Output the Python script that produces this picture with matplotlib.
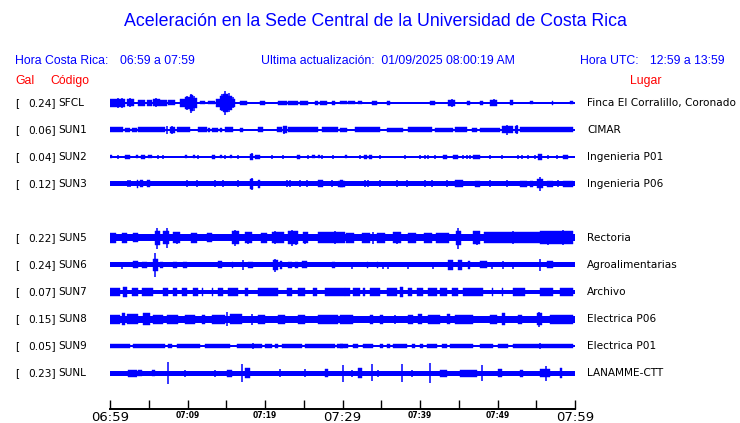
import matplotlib
matplotlib.use('Agg')
import matplotlib.pyplot as plt
from matplotlib.transforms import blended_transform_factory

# stations, top to bottom (SUN4 has an empty row)
codes = ['SFCL', 'SUN1', 'SUN2', 'SUN3', 'SUN4', 'SUN5', 'SUN6', 'SUN7', 'SUN8', 'SUN9', 'SUNL']
gal = [0.24, 0.06, 0.04, 0.12, None, 0.22, 0.24, 0.07, 0.15, 0.05, 0.23]
places = ['Finca El Corralillo, Coronado', 'CIMAR', 'Ingenieria P01', 'Ingenieria P06', None,
          'Rectoria', 'Agroalimentarias', 'Archivo', 'Electrica P06', 'Electrica P01', 'LANAMME-CTT']

time_labels = ['06:59', '07:09', '07:19', '07:29', '07:39', '07:49', '07:59']
big_labels = ['06:59', '07:29', '07:59']

# trace envelopes: minutes since 06:59, amplitude in screen px
base = {'SFCL': 1.0, 'SUN1': 1.0, 'SUN2': 0.7, 'SUN3': 2.5, 'SUN5': 3.5, 'SUN6': 2.5,
        'SUN7': 2.3, 'SUN8': 3.5, 'SUN9': 0.7, 'SUNL': 2.5}

# (start, end, half amplitude)
blocks = {
    'SFCL': [(0, 1.94, 4), (2.15, 3.14, 3.5), (3.57, 4.52, 3), (4.73, 5.38, 3), (5.59, 6.45, 3.5),
             (6.45, 7.31, 3), (7.44, 8.39, 2.5), (9.03, 9.68, 4), (9.68, 10.32, 6), (10.32, 10.75, 8),
             (10.75, 11.18, 5), (11.61, 12.26, 1.5), (12.69, 13.55, 1.5), (13.68, 14.19, 4),
             (14.19, 14.62, 7), (14.62, 15.27, 9), (15.27, 15.70, 7), (15.70, 16.13, 4),
             (16.77, 17.63, 1.8), (19.35, 20.0, 1.8), (21.72, 22.80, 1.8), (23.01, 24.30, 1.8),
             (24.52, 25.59, 1.8), (26.45, 26.88, 1.8), (27.10, 27.96, 1.8), (28.60, 29.03, 1.8),
             (29.68, 30.54, 1.5), (30.76, 31.62, 1.5), (32.05, 32.48, 1.5), (33.77, 34.41, 2),
             (35.70, 36.13, 2), (41.29, 41.94, 2), (43.66, 44.52, 3), (46.02, 46.45, 2),
             (47.74, 48.17, 2), (49.04, 49.89, 3), (51.62, 52.05, 2.5), (54.20, 54.63, 1.5),
             (57.0, 57.21, 2), (59.36, 59.79, 1.5)],
    'SUN1': [(0, 1.72, 2.5), (1.94, 2.58, 2), (2.80, 3.44, 2), (3.66, 7.10, 2.5), (7.74, 8.39, 3),
             (8.60, 10.32, 2.5), (11.40, 12.47, 2.5), (12.69, 12.90, 2), (13.12, 13.98, 2),
             (14.19, 14.41, 2), (14.84, 15.91, 2.5), (16.77, 17.20, 2), (19.14, 19.78, 2.5),
             (21.51, 22.15, 2.5), (22.37, 22.80, 3.5), (23.01, 26.88, 2.5), (27.31, 29.46, 2.5),
             (29.68, 30.54, 2), (31.62, 34.84, 2.5), (35.70, 37.85, 2), (38.50, 41.51, 2.5),
             (41.94, 44.30, 2), (44.52, 46.02, 2.5), (46.67, 47.31, 2), (47.74, 50.32, 2),
             (50.54, 52.05, 3.5), (52.26, 52.69, 3.5), (52.91, 59.79, 2.5)],
    'SUN2': [(0, 0.22, 1.5), (1.94, 2.58, 2), (3.31, 3.66, 1.5), (4.0, 4.52, 2), (4.95, 5.38, 1.5),
             (9.68, 9.89, 1.5), (10.75, 10.97, 1.5), (13.12, 13.55, 2), (14.19, 14.41, 1.5),
             (15.48, 15.70, 1.5), (18.06, 18.49, 3), (18.71, 19.35, 2), (24.09, 24.52, 2),
             (26.02, 26.45, 1.5), (26.88, 27.10, 1.5), (30.33, 30.54, 1.5), (32.78, 33.12, 2),
             (33.46, 33.77, 2), (43.01, 43.44, 2), (44.30, 44.95, 2), (46.88, 47.74, 2),
             (55.27, 55.70, 3), (58.41, 59.14, 2)],
    'SUN3': [(3.44, 3.66, 4), (3.87, 4.30, 3.5), (4.73, 5.16, 3.5), (18.06, 18.49, 5),
             (19.14, 19.35, 4), (26.88, 27.53, 3.5), (29.46, 30.32, 3), (29.68, 30.11, 3.5),
             (44.52, 45.59, 3.5), (47.10, 47.74, 3), (52.91, 53.77, 3), (54.20, 54.63, 3),
             (55.06, 55.92, 4.5), (56.35, 57.21, 3), (58.50, 59.79, 3)],
    'SUN5': [(0, 0.8, 5), (1.5, 2.2, 5), (3, 3.6, 4.5), (5.81, 6.45, 7), (6.9, 7.6, 6.5),
             (8.17, 9.03, 5.5), (10.5, 11.2, 5), (12.5, 13.2, 4.5), (15.7, 16.6, 6.5),
             (17.42, 18.28, 5.5), (19.5, 20.2, 5), (20.86, 22.4, 5.5), (23.01, 24.30, 6.5),
             (24.95, 25.59, 5.5), (26.88, 30.32, 5.5), (30.5, 31.5, 5), (32.5, 33.5, 5),
             (34.5, 35.5, 5), (36.5, 37.5, 5.5), (38.5, 39.5, 5), (40.5, 41.5, 5), (42, 43.8, 5),
             (44.6, 45.3, 7), (46.88, 47.74, 6.5), (48.2, 55.5, 5.5), (55.5, 59.79, 6.5)],
    'SUN6': [(3.01, 3.66, 3.5), (4.09, 4.73, 3), (5.59, 6.24, 6), (6.45, 6.88, 3), (8.17, 8.60, 3),
             (9.46, 9.89, 3), (13.98, 14.41, 3.5), (15.70, 15.91, 3), (17.85, 18.49, 3),
             (21.08, 21.72, 5), (21.94, 22.15, 4), (23.01, 23.44, 3), (23.87, 24.30, 3),
             (24.73, 25.38, 3.5), (28.60, 29.03, 3), (33.12, 33.34, 3), (34.41, 34.63, 3),
             (43.66, 44.30, 5), (44.95, 45.38, 5), (46.24, 46.45, 4), (47.74, 48.60, 3.5),
             (56.35, 57.21, 3.5)],
    'SUN7': [(0, 1.29, 3.5), (1.72, 2.15, 4.5), (2.80, 3.66, 3.5), (4.09, 5.59, 4), (6.88, 7.53, 3.5),
             (8.17, 8.60, 3.5), (9.25, 9.89, 4), (10.75, 11.40, 3.5), (11.83, 12.0, 3.5),
             (13.12, 13.3, 3.5), (13.98, 14.62, 4), (15.27, 16.56, 3.5), (17.42, 17.85, 4),
             (19.14, 21.72, 3.5), (22.80, 23.44, 4), (24.30, 25.16, 3.5), (26.24, 26.67, 4),
             (27.74, 30.32, 3.5), (30.33, 30.97, 3.5), (31.40, 32.26, 3.5), (32.69, 32.9, 3.5),
             (33.55, 34.84, 3.5), (35.70, 36.99, 3.5), (37.42, 37.85, 4.5), (38.50, 38.93, 4),
             (39.57, 40.43, 4), (41.08, 42.15, 3.5), (42.58, 43.44, 3.5), (44.09, 44.95, 3.5),
             (45.59, 48.17, 4), (49.25, 49.4, 3.5), (50.54, 50.75, 4), (52.05, 53.55, 4),
             (55.49, 57.21, 3.5), (58.07, 59.79, 3.5)],
    'SUN8': [(0, 1.29, 4.5), (1.51, 1.94, 6), (2.15, 3.66, 5), (4.30, 5.16, 6), (5.59, 6.88, 4.5),
             (7.31, 8.82, 4.5), (9.68, 10.97, 4.5), (11.83, 12.26, 4.5), (13.12, 14.84, 4.5),
             (15.48, 17.0, 5), (19.14, 20.0, 4.5), (21.72, 22.58, 4.5), (24.30, 25.16, 4.5),
             (26.88, 29.46, 4.5), (29.68, 31.40, 4.5), (33.55, 33.98, 4.5), (34.84, 35.27, 4.5),
             (38.50, 39.14, 4.5), (39.79, 40.22, 5), (41.08, 42.58, 4.5), (43.44, 43.87, 5),
             (44.52, 46.88, 4.5), (49.04, 49.89, 4.5), (50.54, 50.97, 6), (52.69, 53.12, 4.5),
             (55.06, 55.70, 6), (56.78, 59.79, 4.5)],
    'SUN9': [(0, 2.58, 2), (3.01, 7.10, 2), (7.53, 7.96, 2), (8.60, 11.61, 2), (12.26, 15.48, 2),
             (16.34, 19.57, 2), (20.0, 20.86, 2), (21.29, 21.72, 2), (22.15, 24.73, 2),
             (25.16, 29.03, 2), (29.25, 30.32, 2), (29.68, 30.11, 2), (30.33, 30.76, 2),
             (31.40, 32.05, 2), (32.69, 33.98, 2), (34.84, 35.27, 2), (35.70, 36.13, 2),
             (36.56, 38.28, 2), (38.93, 39.36, 2), (40.0, 40.43, 2), (40.86, 42.15, 2),
             (42.80, 43.44, 2), (43.87, 46.88, 2), (47.74, 49.46, 2), (50.11, 51.40, 2),
             (52.05, 59.79, 2)],
    'SUNL': [(2.37, 3.44, 3.5), (3.66, 4.09, 3), (5.38, 5.81, 3), (15.05, 15.70, 3.5),
             (17.42, 18.06, 5), (27.74, 28.17, 4), (32.05, 32.48, 5), (42.58, 43.44, 3.5),
             (45.16, 47.31, 3.5), (50.11, 50.54, 4), (52.91, 53.34, 3.5), (55.49, 56.78, 4),
             (58.07, 58.28, 5)],
}

# (minute, up, down)
spikes = {
    'SFCL': [(1.0, 5, 5), (1.51, 5, 5), (2.6, 4.5, 4.5), (5.9, 4.5, 4.5), (9.9, 7, 7), (10.5, 9, 10),
             (10.8, 7, 8), (14.5, 9, 8), (14.85, 12, 12), (15.3, 10, 9), (15.9, 6, 5), (44.1, 3.5, 4.5),
             (49.5, 3.5, 3.5)],
    'SUN1': [(7.31, 4, 4), (7.96, 4, 4), (22.5, 4, 4), (51.2, 5, 5), (52.5, 4.5, 4.5)],
    'SUN2': [(1.08, 2, 2), (6.24, 2, 2), (6.88, 2, 2), (11.40, 2, 2), (14.9, 2, 2), (16.56, 2, 2),
             (20.86, 2, 2), (22.37, 2, 2), (25.59, 2, 2), (27.31, 2, 2), (28.82, 2, 2), (32.26, 2, 2),
             (34.84, 2, 2), (38.07, 2, 2), (40.0, 2, 2), (40.65, 2, 2), (41.08, 2, 2), (41.94, 2, 2),
             (45.5, 2, 2), (46.1, 2, 2), (46.5, 2, 2), (49.04, 2, 2), (50.54, 2, 2), (52.6, 2, 2),
             (53.2, 2, 2), (53.98, 2, 2), (54.9, 2, 2), (56.56, 2, 2), (57.64, 2, 2), (18.3, 3.5, 3.5)],
    'SUN3': [(2.28, 3.5, 3.5), (2.58, 3.5, 3.5), (9.89, 3.5, 3.5), (11.18, 3.5, 3.5), (13.55, 3.5, 3.5),
             (14.62, 3.5, 3.5), (16.56, 3.5, 3.5), (22.80, 3.5, 3.5), (23.23, 3.5, 3.5), (24.52, 3.5, 3.5),
             (25.38, 3.5, 3.5), (28.60, 3.5, 3.5), (32.91, 3.5, 3.5), (33.34, 3.5, 3.5), (34.84, 3.5, 3.5),
             (36.99, 3.5, 3.5), (38.28, 3.5, 3.5), (40.65, 3.5, 3.5), (41.51, 3.5, 3.5), (43.44, 3.5, 3.5),
             (49.04, 3.5, 3.5), (51.19, 3.5, 3.5), (57.85, 3.5, 3.5), (55.49, 7, 7), (18.3, 5.5, 6)],
    'SUN5': [(6.0, 10, 11), (7.3, 10, 10), (8.6, 6, 6), (16.1, 8, 8), (17.8, 6, 6), (21.3, 6.5, 6.5),
             (23.5, 8, 8), (24.0, 7, 7), (25.2, 6, 6), (29.0, 6.5, 6.5), (33.9, 6, 6), (37.0, 6, 6),
             (44.95, 10, 11), (47.3, 7, 7), (52.0, 6.5, 6.5), (56.5, 7, 7), (58.5, 8, 7)],
    'SUN6': [(1.51, 3.5, 3.5), (5.81, 11.5, 11.5), (17.20, 5, 5), (21.3, 6.5, 6.5), (31.19, 3.5, 3.5),
             (35.27, 3.5, 3.5), (35.92, 3.5, 3.5), (38.50, 3.5, 3.5), (41.72, 3.5, 3.5), (49.25, 3.5, 3.5),
             (50.75, 4, 4), (52.05, 3.5, 3.5), (55.49, 6, 6)],
    'SUN7': [],
    'SUN8': [(15.05, 7, 7), (18.28, 5.5, 5.5), (36.78, 4.5, 4.5), (55.4, 7.5, 8)],
    'SUN9': [(18.41, 3, 3), (55.49, 3, 3)],
    'SUNL': [(7.53, 11.5, 11), (9.68, 3.5, 3.5), (13.55, 3.5, 3.5), (17.08, 9, 8.5), (21.94, 4, 4),
             (25.16, 4, 4), (30.11, 8.5, 8.5), (31.19, 3.5, 3.5), (33.77, 9, 8), (34.63, 3.5, 3.5),
             (37.64, 9, 9), (38.93, 3.5, 3.5), (41.29, 10, 10), (47.96, 8, 8), (56.22, 7.5, 7.5)],
}

blue = '#0000ff'
fig = plt.figure(figsize=(7.4, 4.23), dpi=100)
W, H = 740, 423
ax = fig.add_axes([110 / W, 1 - 409 / H, 465 / W, 321 / H])
ax.set_xlim(0, 60)
ax.set_ylim(306, -15)
row = 27

for i, code in enumerate(codes):
    if gal[i] is None:
        continue
    y0 = i * row
    b = base[code]
    ax.fill_between([0, 60], y0 - b, y0 + b, color=blue, lw=0)
    for m0, m1, h in blocks[code]:
        ax.fill_between([m0, m1], y0 - h, y0 + h, color=blue, lw=0.3)
    for m, up, dn in spikes[code]:
        ax.vlines(m, y0 - up, y0 + dn, color=blue, lw=1.1)

for s in ['top', 'left', 'right']:
    ax.spines[s].set_visible(False)
ax.spines['bottom'].set_linewidth(1.4)
ax.set_yticks([])
ax.set_xticks(range(0, 61, 5))
lbls = []
for k in range(13):
    lbls.append(time_labels[k // 2] if k % 2 == 0 else '')
ax.set_xticklabels(lbls)
ax.tick_params(axis='x', direction='in', length=6.5, width=1, pad=1.5)
for t in ax.get_xticklabels():
    if t.get_text() in big_labels:
        t.set_fontsize(9.5)
    else:
        t.set_fontsize(5.5)
        t.set_fontweight('bold')

# station labels
tr = blended_transform_factory(fig.transFigure, ax.transData)
fs = 7.6
for i, code in enumerate(codes):
    if gal[i] is None:
        continue
    y0 = i * row
    ax.text(15 / W, y0, '[', transform=tr, fontsize=fs, va='center', ha='left')
    ax.text(55.5 / W, y0, '%.2f]' % gal[i], transform=tr, fontsize=fs, va='center', ha='right')
    ax.text(58 / W, y0, code, transform=tr, fontsize=fs, va='center', ha='left')
    ax.text(587 / W, y0, places[i], transform=tr, fontsize=fs, va='center', ha='left')

# header
hf = 'Liberation Sans'
fig.text(375 / W, 1 - 22 / H, 'Aceleración en la Sede Central de la Universidad de Costa Rica',
         color=blue, fontsize=12.8, family=hf, ha='center', va='center')
fig.text(15 / W, 1 - 61 / H, 'Hora Costa Rica:', color=blue, fontsize=8.8, family=hf, va='center')
fig.text(120 / W, 1 - 61 / H, '06:59 a 07:59', color=blue, fontsize=8.8, family=hf, va='center')
fig.text(261 / W, 1 - 61 / H, 'Ultima actualización:  01/09/2025 08:00:19 AM', color=blue,
         fontsize=8.8, family=hf, va='center')
fig.text(580 / W, 1 - 61 / H, 'Hora UTC:', color=blue, fontsize=8.8, family=hf, va='center')
fig.text(650 / W, 1 - 61 / H, '12:59 a 13:59', color=blue, fontsize=8.8, family=hf, va='center')
fig.text(15 / W, 1 - 81 / H, 'Gal', color='red', fontsize=8.8, family=hf, va='center')
fig.text(50 / W, 1 - 81 / H, 'Código', color='red', fontsize=8.8, family=hf, va='center')
fig.text(630 / W, 1 - 81 / H, 'Lugar', color='red', fontsize=8.8, family=hf, va='center')

fig.savefig('out.png', dpi=100)
